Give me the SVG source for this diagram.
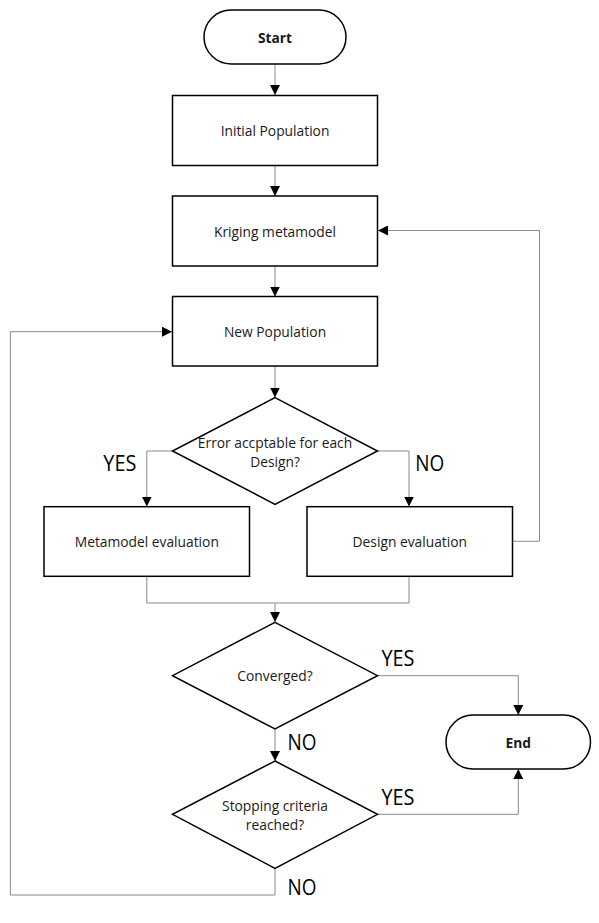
<svg xmlns="http://www.w3.org/2000/svg" width="599" height="923" viewBox="0 0 599 923">
<style>
.n{fill:#fff;stroke:#000;stroke-width:1.5}
.t{font-family:"Open Sans","Liberation Sans",sans-serif;font-size:13.8px;fill:#1a1a1a;text-anchor:middle;dominant-baseline:central}
.b{font-weight:bold}
.c{fill:none;stroke:#8a8a8a;stroke-width:1}
.l{font-family:"Open Sans","Liberation Sans",sans-serif;font-size:21px;fill:#000}
</style>
<defs>
<marker id="a" viewBox="0 0 10 10" refX="10" refY="5" markerWidth="10" markerHeight="10" markerUnits="userSpaceOnUse" orient="auto">
<path d="M0,0 L10,5 L0,10 z" fill="#000"/>
</marker>
</defs>
<rect width="599" height="923" fill="#fff"/>
<g id="connectors">
<path class="c" d="M275,64 V95" marker-end="url(#a)"/>
<path class="c" d="M275,165.5 V196" marker-end="url(#a)"/>
<path class="c" d="M275,266 V296.5" marker-end="url(#a)"/>
<path class="c" d="M275,366 V397.5" marker-end="url(#a)"/>
<path class="c" d="M172.5,451 H146.8 V506.5" marker-end="url(#a)"/>
<path class="c" d="M377.5,451 H409 V506.5" marker-end="url(#a)"/>
<path class="c" d="M512.5,541.3 H539.5 V230.5 H378" marker-end="url(#a)"/>
<path class="c" d="M146.8,576.5 V603 H409 V576.5"/>
<path class="c" d="M275,603 V622" marker-end="url(#a)"/>
<path class="c" d="M377.5,675.7 H518.3 V715" marker-end="url(#a)"/>
<path class="c" d="M275,729 V761" marker-end="url(#a)"/>
<path class="c" d="M377.5,814.3 H518.3 V769" marker-end="url(#a)"/>
<path class="c" d="M275,868.3 V895 H10.4 V331.7 H172" marker-end="url(#a)"/>
<text class="l" x="103.3" y="471" textLength="33" lengthAdjust="spacingAndGlyphs">YES</text>
<text class="l" x="415.3" y="471" textLength="29" lengthAdjust="spacingAndGlyphs">NO</text>
<text class="l" x="381.5" y="666" textLength="33" lengthAdjust="spacingAndGlyphs">YES</text>
<text class="l" x="287.5" y="750" textLength="29" lengthAdjust="spacingAndGlyphs">NO</text>
<text class="l" x="381.5" y="805" textLength="33" lengthAdjust="spacingAndGlyphs">YES</text>
<text class="l" x="287.5" y="895" textLength="29" lengthAdjust="spacingAndGlyphs">NO</text>
</g>
<g id="start">
<rect class="n" x="204" y="10" width="142" height="54" rx="27" ry="27"/>
<text class="t b" x="275" y="37">Start</text>
</g>
<g id="initial">
<rect class="n" x="172.5" y="95.5" width="205" height="70"/>
<text class="t" x="275" y="130.5">Initial Population</text>
</g>
<g id="kriging">
<rect class="n" x="172.5" y="196" width="205" height="70"/>
<text class="t" x="275" y="231">Kriging metamodel</text>
</g>
<g id="newpop">
<rect class="n" x="172.5" y="296.5" width="205" height="69.5"/>
<text class="t" x="275" y="331.5">New Population</text>
</g>
<g id="error">
<polygon class="n" points="275,397.7 377.5,451 275,504.3 172.5,451"/>
<text class="t" x="275" y="442">Error accptable for each</text>
<text class="t" x="275" y="461.5">Design?</text>
</g>
<g id="metaeval">
<rect class="n" x="44" y="506.7" width="205.5" height="69.6"/>
<text class="t" x="146.8" y="541.5">Metamodel evaluation</text>
</g>
<g id="designeval">
<rect class="n" x="307" y="506.7" width="205.5" height="69.6"/>
<text class="t" x="409.8" y="541.5">Design evaluation</text>
</g>
<g id="converged">
<polygon class="n" points="275,622.3 377.5,675.7 275,729 172.5,675.7"/>
<text class="t" x="275" y="675.7">Converged?</text>
</g>
<g id="stopping">
<polygon class="n" points="275,761 377.5,814.3 275,868.3 172.5,814.3"/>
<text class="t" x="275" y="805">Stopping criteria</text>
<text class="t" x="275" y="824">reached?</text>
</g>
<g id="end">
<rect class="n" x="446" y="715" width="144.5" height="54" rx="27" ry="27"/>
<text class="t b" x="518.3" y="742">End</text>
</g>
</svg>
